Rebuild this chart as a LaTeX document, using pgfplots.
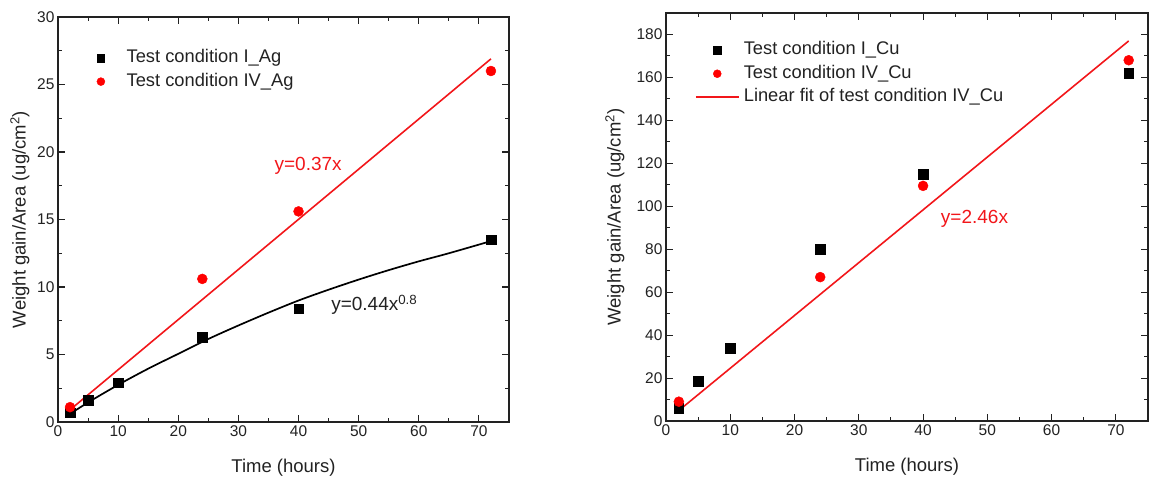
\documentclass[border=0pt]{standalone}
\usepackage{fontspec}
\setmainfont{Liberation Sans}
\usepackage{pgfplots}
\pgfplotsset{compat=1.18}
\definecolor{txt}{HTML}{222222}
\definecolor{fitred}{HTML}{F2161A}

\tikzset{
  ann/.style={font=\fontsize{19}{22}\selectfont},
  lab/.style={font=\fontsize{18.5}{22}\selectfont, text=txt},
}

\pgfplotsset{
  panel/.style={
    scale only axis, clip=false,
    xmin=0, xmax=75, xtick={0,10,...,70}, minor x tick num=1,
    tick align=inside, tick pos=both,
    major tick length=7pt, minor tick length=4pt,
    axis line style={line width=1.4pt, draw=txt},
    every tick/.style={line width=1.1pt, draw=txt},
    ticklabel style={font=\fontsize{15.5}{18}\selectfont, text=txt},
    /pgf/number format/assume math mode=true,
    every axis x label/.style={lab, at={(axis description cs:0.5,0)}, anchor=center, yshift=-46pt},
    xlabel={Time (hours)},
    ylabel={Weight gain/Area (ug/cm\textsuperscript{2})},
    legend style={draw=none, fill=none, inner sep=0pt, anchor=north west,
      font=\fontsize{18.3}{22}\selectfont, text=txt, row sep=0pt, column sep=2pt,
      nodes={inner sep=2.25pt, text height=14pt, text depth=5pt}},
    legend cell align=left,
    legend image code/.code={\path[draw=none,fill=none] (0pt,-1pt) (43pt,1pt);
      \draw[mark repeat=2,mark phase=2,##1]
      plot coordinates {(0pt,0pt) (21.5pt,0pt) (43pt,0pt)};},
  },
  sq/.style={only marks, mark=square*, mark size=4.8pt, black, mark options={draw=black, fill=black}},
  dot/.style={only marks, mark=*, mark size=5pt, red, mark options={draw=red, fill=red}},
}

\begin{document}
\begin{tikzpicture}
\path[use as bounding box] (0,0) rectangle (1151pt,480pt);

% left panel: Ag
\begin{axis}[panel, at={(58pt,58pt)}, anchor=south west,
  width=451pt, height=405pt,
  ymin=0, ymax=30, ytick={0,5,...,30}, minor y tick num=1,
  every axis y label/.style={lab, at={(axis description cs:0,0.5)}, xshift=-38pt, rotate=90, anchor=center},
  legend style={at={(0.047,0.928)}}]
  \addplot[sq, legend image post style={mark size=3.6pt}] coordinates {(2,0.7) (5,1.6) (10,2.9) (24,6.3) (40,8.4) (72,13.5)};
  \addlegendentry{Test condition I\_Ag}
  \addplot[dot, legend image post style={mark size=4pt}] coordinates {(2,1.1) (24,10.6) (40,15.6) (72,26.0)};
  \addlegendentry{Test condition IV\_Ag}
  \addplot[forget plot, fitred, line width=1.6pt] coordinates {(2,0.9) (72,26.9)};
  \addplot[forget plot, black, line width=1.7pt, smooth] coordinates {
    (2,0.6) (5,1.45) (10,2.75) (15,3.95) (20,5.05) (25,6.15) (30,7.15) (35,8.1)
    (40,9.0) (45,9.8) (50,10.55) (55,11.25) (60,11.9) (65,12.5) (72,13.4)};
  \node[ann, text=fitred] at (axis cs:41.6,19.0) {y=0.37x};
  \node[ann, text=txt] at (axis cs:52.6,8.7) {y=0.44x\textsuperscript{0.8}};
\end{axis}

% right panel: Cu
\begin{axis}[panel, at={(666pt,59pt)}, anchor=south west,
  width=482pt, height=408pt,
  ymin=0, ymax=190, ytick={0,20,...,180}, minor y tick num=1,
  every axis y label/.style={lab, at={(axis description cs:0,0.5)}, xshift=-51pt, rotate=90, anchor=center},
  legend style={at={(0.0597,0.938)}}]
  \addplot[sq, legend image post style={mark size=3.6pt}] coordinates {(2,6) (5,18.5) (10,34) (24,80) (40,115) (72,162)};
  \addlegendentry{Test condition I\_Cu}
  \addplot[dot, legend image post style={mark size=4pt}] coordinates {(2,9) (24,67) (40,109.5) (72,168)};
  \addlegendentry{Test condition IV\_Cu}
  \addplot[fitred, line width=1.6pt] coordinates {(2,4.9) (72,177)};
  \addlegendentry{Linear fit of test condition IV\_Cu}
  \node[ann, text=fitred] at (axis cs:48,94) {y=2.46x};
\end{axis}
\end{tikzpicture}
\end{document}
